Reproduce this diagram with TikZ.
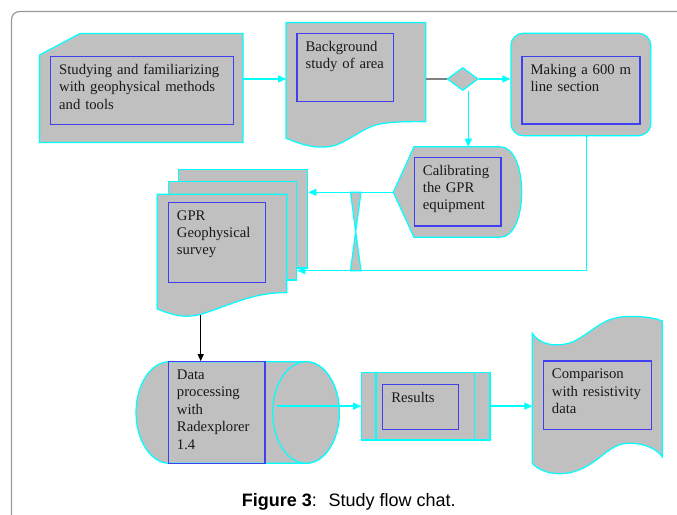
\documentclass[tikz,border=0pt]{standalone}
\usepackage{fontspec}
\setmainfont{Liberation Serif}
\newfontfamily\capfont{Liberation Sans}
\usetikzlibrary{arrows.meta,shapes.geometric}
\definecolor{chartgray}{HTML}{C0C0C0}
\definecolor{chartcyan}{HTML}{00FFFF}
\definecolor{boxblue}{HTML}{4040F0}
\definecolor{framegray}{HTML}{9A9A9A}
\definecolor{joingray}{HTML}{808080}
\tikzstyle{chart}=[fill=chartgray,draw=chartcyan,line width=1.2pt]
\tikzstyle{inner box}=[draw=boxblue,line width=1.1pt,inner sep=0pt]
\tikzstyle{box text}=[font=\fontsize{14.7}{17.4}\selectfont,text width=200pt,align=left,inner sep=0pt,anchor=base west,text=black!90]
\tikzstyle{flow}=[draw=chartcyan,line width=1.4pt,-{Triangle[length=8pt,width=7pt]}]

\begin{document}
\begin{tikzpicture}[x=1pt,y=-1pt]
    \useasboundingbox (0,0) rectangle (677,514);
    \clip (0,0) rectangle (677,514);
    \draw[framegray,line width=1.2pt,rounded corners=8pt] (11.5,530) -- (11.5,11.5) -- (690,11.5);

    % outer shapes
    \path[chart] (39.5,55) -- (80,33.5) -- (243,33.5) -- (243,142.5) -- (39.5,142.5) -- cycle;
    \path[chart] (286,22.5) -- (425.7,22.5) -- (425.7,121.7) .. controls (410,121.5) and (395,121.5) .. (380,124)
        .. controls (360,128) and (345,146) .. (326,147) .. controls (312,148) and (300,144) .. (286,138.3) -- cycle;
    \node[chart,diamond,minimum width=31pt,minimum height=23pt,inner sep=0pt] (dec) at (462.7,79) {};
    \node[chart,rounded corners=12pt,minimum width=139.7pt,minimum height=102.4pt] (sect) at (580.85,84.5) {};
    \path[chart] (393.3,192.3) -- (414,146.7) -- (500,146.7) .. controls (514,146.7) and (521.7,168) .. (521.7,192)
        .. controls (521.7,216) and (514,237.3) .. (500,237.3) -- (414,237.3) -- cycle;
    \path[chart] (350.5,192.3) -- (361,192.3) -- (355.7,231.5) -- (361,270.7) -- (350.5,270.7) -- (355.7,231.5) -- cycle;
    \path[chart] (178.3,169.3) rectangle (307.3,268);
    \path[chart] (168.3,181.7) rectangle (296.7,280);
    \path[chart] (157.3,194.3) -- (286.7,194.3) -- (286.7,292.7) .. controls (255,292) and (230,305) .. (205,313)
        .. controls (185,320) and (170,314) .. (157.3,309) -- cycle;
    \path[chart] (169.3,361.7) -- (306,361.7) arc[start angle=90,end angle=-90,x radius=33.3pt,y radius=50.8pt]
        -- (169.3,463.3) arc[start angle=270,end angle=90,x radius=33.3pt,y radius=50.8pt] -- cycle;
    \draw[chart] (306,412.5) ellipse[x radius=33.3pt,y radius=50.8pt];
    \node[chart,minimum width=128.3pt,minimum height=67.7pt] (resframe) at (425.85,406.15) {};
    \draw[chartcyan,line width=1.2pt] (376,372.3) -- (376,440) (474.3,372.3) -- (474.3,440);
    \path[chart] (532.3,333.3) .. controls (540,345) and (555,347) .. (570,343) .. controls (590,335) and (600,318) .. (625,316.5)
        .. controls (645,316) and (655,318) .. (662.3,321) -- (662.3,456.7) .. controls (655,447) and (640,442) .. (625,443.5)
        .. controls (605,446) and (595,470) .. (565,473.5) .. controls (550,475) and (538,470) .. (532.3,463.3) -- cycle;

    % text boxes
    \node[inner box,minimum width=183pt,minimum height=68pt] (study) at (142,90.5) {};
    \foreach \name/\cx/\cy/\w/\h/\txt in {bkg/345.15/67.5/96.3/68.4/{Background\\study of area},
                                          section/581/90.35/118/67.3/{Making a 600 m\\line section},
                                          calib/457.65/191.65/86.7/68.7/{Calibrating\\the GPR\\equipment},
                                          gpr/216.8/242.3/97/80/{GPR\\Geophysical\\survey},
                                          proc/216.65/412.5/96.7/101.6/{Data\\processing\\with\\Radexplorer\\1.4},
                                          results/420.5/406.8/75.6/45/{Results},
                                          comp/597.5/395.15/108.4/68.3/{Comparison\\with resistivity\\data}}
    {
        \node[inner box,minimum width=\w pt,minimum height=\h pt] (\name) at (\cx,\cy) {};
        \node[box text] at ([shift={(9,18.4)}]\name.north west) {\txt};
    }
    \begin{scope}
        \clip (study.north west) rectangle ([yshift=16pt]study.south east);
        \node[box text] at ([shift={(9,18.4)}]study.north west) {Studying and familiarizing\\with geophysical methods\\and tools};
    \end{scope}

    % connectors
    \coordinate (studyR) at (243,79);
    \coordinate (bkgL) at (286,79);
    \coordinate (bkgR) at (425.7,79);
    \coordinate (decS) at (468.3,90.7);
    \coordinate (calT) at (468.3,146.7);
    \coordinate (calL) at (393.3,192.3);
    \coordinate (sectB) at (586.7,135.7);
    \coordinate (stackTop) at (308.3,192.3);
    \coordinate (stackLow) at (297.3,270.7);
    \coordinate (gprB) at (200.7,314.5);
    \coordinate (procR) at (276.7,406.15);
    \coordinate (compL) at (532.3,406.15);
    \draw[flow] (studyR) -- (bkgL);
    \draw[joingray,line width=1.5pt] (bkgR) -- (dec.west);
    \draw[flow] (dec.east) -- (dec.east -| sect.west);
    \draw[flow] (decS) -- (calT);
    \draw[flow] (sectB) |- (stackLow);
    \draw[flow] (calL) -- (stackTop);
    \draw[black,line width=1pt,-{Triangle[length=7pt,width=6pt]}] (gprB) -- (gprB |- proc.north);
    \draw[flow] (procR) -- (resframe.west);
    \draw[flow] (resframe.east) -- (compL);

    \node[anchor=base west,inner sep=0pt,font=\capfont\fontsize{18}{20}\selectfont] (caption) at (241.7,506) {\textbf{Figure 3}:~ Study flow chat.};
\end{tikzpicture}
\end{document}
